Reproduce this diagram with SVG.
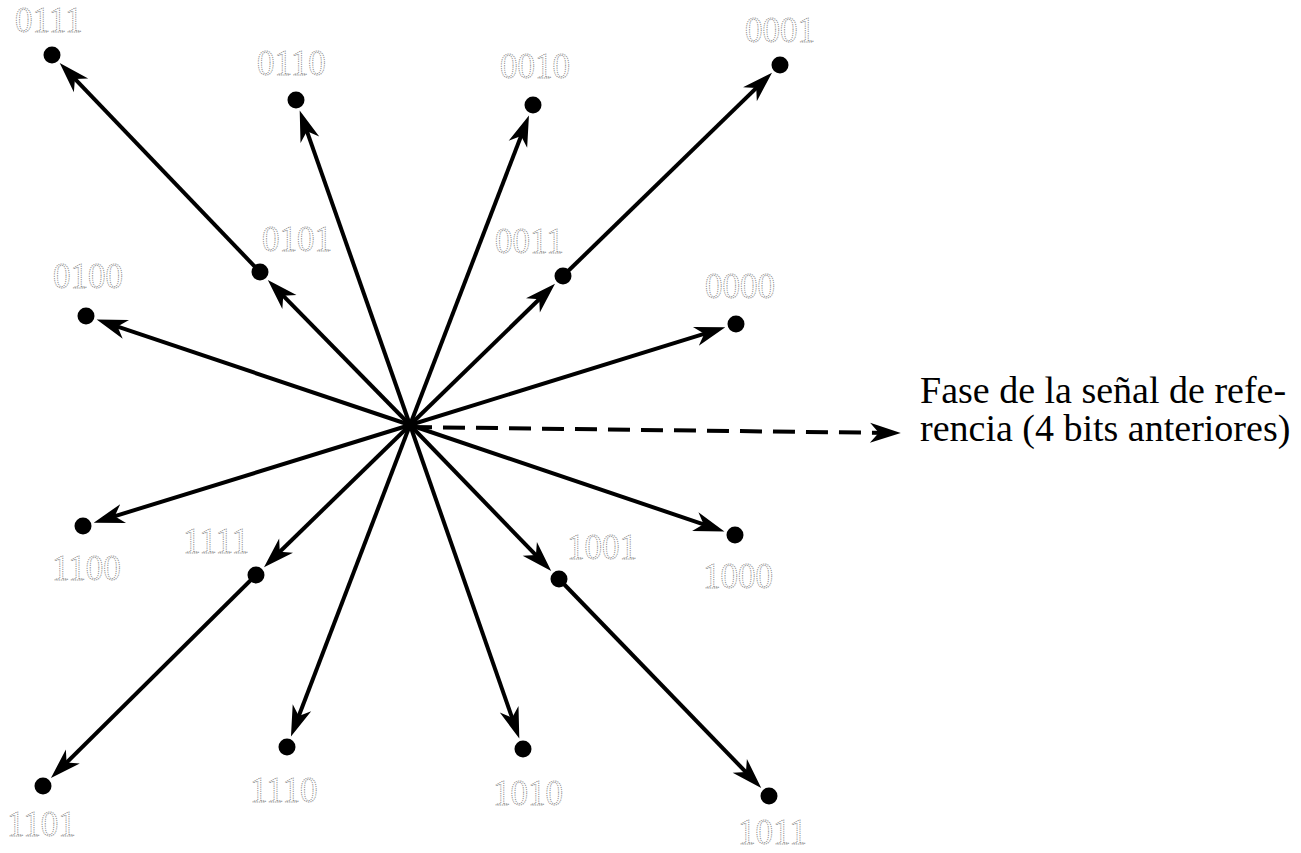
<svg xmlns="http://www.w3.org/2000/svg" width="1301" height="853" viewBox="0 0 1301 853">
  <style>
    .ray { stroke: #000; stroke-width: 4; fill: none; marker-end: url(#barb); }
    .ref { stroke: #000; stroke-width: 4; fill: none; stroke-dasharray: 22 11; marker-end: url(#barb); }
    .dot { fill: #000; }
    .code { font-family: "Liberation Serif", "Times New Roman", serif; font-size: 35px; fill: none; stroke: #8c8c8c; stroke-width: 0.9; stroke-dasharray: 1.2 1; }
    .note { font-family: "Liberation Serif", "Times New Roman", serif; font-size: 38px; fill: #000; }
  </style>
  <defs>
    <!-- barbed arrowhead, tip placed 8 units past the end of the line -->
    <marker id="barb" markerUnits="userSpaceOnUse" orient="auto" refX="-8" refY="0" markerWidth="44" markerHeight="44" viewBox="-34 -14 40 28" overflow="visible">
      <path d="M0,0 L-28,-9 L-20,0 L-28,9 Z" fill="#000"/>
    </marker>
  </defs>

  <rect width="1301" height="853" fill="#fff"/>

  <!-- phase vectors from the origin -->
  <g id="connectors">
    <line class="ray" x1="410" y1="425" x2="274.0" y2="286.3"/>
    <line class="ray" x1="260" y1="272" x2="65.8" y2="69.4"/>
    <line class="ray" x1="410" y1="425" x2="302.6" y2="118.9"/>
    <line class="ray" x1="410" y1="425" x2="525.8" y2="123.7"/>
    <line class="ray" x1="410" y1="425" x2="548.7" y2="290.0"/>
    <line class="ray" x1="563" y1="276" x2="765.7" y2="78.9"/>
    <line class="ray" x1="410" y1="425" x2="105.0" y2="322.4"/>
    <line class="ray" x1="410" y1="425" x2="716.9" y2="329.9"/>
    <line class="ray" x1="410" y1="425" x2="102.1" y2="520.1"/>
    <line class="ray" x1="410" y1="425" x2="716.1" y2="528.6"/>
    <line class="ray" x1="410" y1="425" x2="270.3" y2="561.0"/>
    <line class="ray" x1="256" y1="575" x2="57.2" y2="771.9"/>
    <line class="ray" x1="410" y1="425" x2="545.1" y2="564.6"/>
    <line class="ray" x1="559" y1="579" x2="755.1" y2="781.6"/>
    <line class="ray" x1="410" y1="425" x2="294.1" y2="728.3"/>
    <line class="ray" x1="410" y1="425" x2="516.4" y2="730.1"/>
    <line class="ref" x1="410" y1="427" x2="892" y2="433"/>
  </g>

  <g id="p0111"><circle class="dot" cx="52" cy="55" r="8.5"/><text class="code" x="15" y="32">0111</text></g>
  <g id="p0110"><circle class="dot" cx="296" cy="100" r="8.5"/><text class="code" x="257" y="75">0110</text></g>
  <g id="p0010"><circle class="dot" cx="533" cy="105" r="8.5"/><text class="code" x="500" y="78">0010</text></g>
  <g id="p0001"><circle class="dot" cx="780" cy="65" r="8.5"/><text class="code" x="745" y="42">0001</text></g>
  <g id="p0101"><circle class="dot" cx="260" cy="272" r="8.5"/><text class="code" x="262" y="251">0101</text></g>
  <g id="p0011"><circle class="dot" cx="563" cy="276" r="8.5"/><text class="code" x="495" y="253">0011</text></g>
  <g id="p0100"><circle class="dot" cx="86" cy="316" r="8.5"/><text class="code" x="53" y="288">0100</text></g>
  <g id="p0000"><circle class="dot" cx="736" cy="324" r="8.5"/><text class="code" x="705" y="298">0000</text></g>
  <g id="p1100"><circle class="dot" cx="83" cy="526" r="8.5"/><text class="code" x="52" y="580">1100</text></g>
  <g id="p1000"><circle class="dot" cx="735" cy="535" r="8.5"/><text class="code" x="703" y="588">1000</text></g>
  <g id="p1111"><circle class="dot" cx="256" cy="575" r="8.5"/><text class="code" x="183" y="553">1111</text></g>
  <g id="p1001"><circle class="dot" cx="559" cy="579" r="8.5"/><text class="code" x="567" y="559">1001</text></g>
  <g id="p1101"><circle class="dot" cx="43" cy="786" r="8.5"/><text class="code" x="7" y="836">1101</text></g>
  <g id="p1110"><circle class="dot" cx="287" cy="747" r="8.5"/><text class="code" x="250" y="802">1110</text></g>
  <g id="p1010"><circle class="dot" cx="523" cy="749" r="8.5"/><text class="code" x="493" y="805">1010</text></g>
  <g id="p1011"><circle class="dot" cx="769" cy="796" r="8.5"/><text class="code" x="738" y="844">1011</text></g>

  <g id="reference-note">
    <text class="note" x="920" y="403">Fase de la señal de refe-</text>
    <text class="note" x="920" y="441">rencia (4 bits anteriores)</text>
  </g>
</svg>
